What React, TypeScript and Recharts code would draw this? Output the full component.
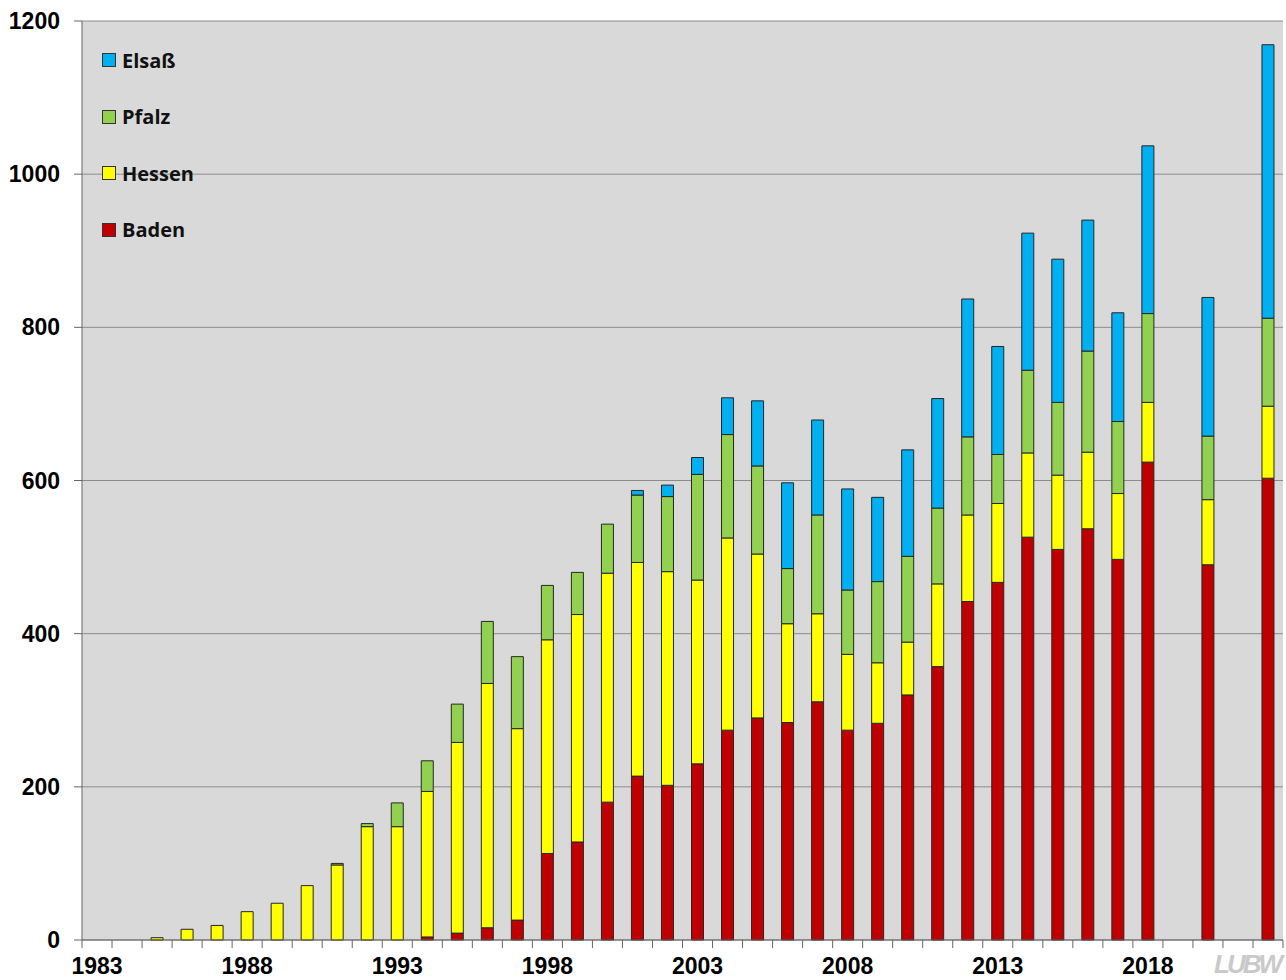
import {
  BarChart,
  Bar,
  XAxis,
  YAxis,
  CartesianGrid,
  Legend,
} from 'recharts'

// Jahre 1983 - 2022, 2019 und 2021 ohne Daten
const years = [
  '1983', '1984', '1985', '1986', '1987', '1988', '1989', '1990', '1991', '1992',
  '1993', '1994', '1995', '1996', '1997', '1998', '1999', '2000', '2001', '2002',
  '2003', '2004', '2005', '2006', '2007', '2008', '2009', '2010', '2011', '2012',
  '2013', '2014', '2015', '2016', '2017', '2018', '2019', '2020', '2021', '2022',
]

const baden = [
  null, null, null, null, null, null, null, null, null, null,
  null, 4, 9, 16, 26, 113, 128, 180, 214, 202,
  230, 274, 290, 284, 311, 274, 283, 320, 357, 442,
  467, 526, 510, 537, 497, 624, null, 490, null, 603,
]

const hessen = [
  null, null, 3, 14, 19, 37, 48, 71, 98, 148,
  148, 190, 249, 319, 250, 279, 297, 299, 279, 279,
  240, 251, 214, 129, 115, 99, 79, 69, 108, 113,
  103, 110, 97, 100, 86, 78, null, 85, null, 94,
]

const pfalz = [
  null, null, null, null, null, null, null, null, 2, 4,
  31, 40, 50, 81, 94, 71, 55, 64, 88, 98,
  138, 135, 115, 72, 129, 84, 106, 112, 99, 102,
  64, 108, 95, 132, 94, 116, null, 83, null, 115,
]

const elsass = [
  null, null, null, null, null, null, null, null, null, null,
  null, null, null, null, null, null, null, null, 6, 15,
  22, 48, 85, 112, 124, 132, 110, 139, 143, 180,
  141, 179, 187, 171, 142, 219, null, 181, null, 357,
]

const yTicks = [0, 200, 400, 600, 800, 1000, 1200]
const labelYears = ['1983', '1988', '1993', '1998', '2003', '2008', '2013', '2018']

const data = years.map((year, i) => ({
  year,
  Baden: baden[i],
  Hessen: hessen[i],
  Pfalz: pfalz[i],
  'Elsaß': elsass[i],
}))

// Stapelreihenfolge von unten nach oben
const series = [
  { key: 'Baden', color: '#c00000' },
  { key: 'Hessen', color: '#ffff00' },
  { key: 'Pfalz', color: '#92d050' },
  { key: 'Elsaß', color: '#00b0f0' },
]

const axisFont = '"Liberation Sans", Arial, sans-serif'
const barStroke = '#262626'

function YearTick(props: any) {
  const { x, y, payload, index } = props
  const half = 15
  const isLast = index === years.length - 1
  return (
    <g>
      <line x1={x - half} y1={y} x2={x - half} y2={y + 8} stroke="#666" />
      {isLast && <line x1={x + half} y1={y} x2={x + half} y2={y + 8} stroke="#666" />}
      {labelYears.includes(payload.value) && (
        <text
          x={x}
          y={y + 34}
          textAnchor="middle"
          fontFamily={axisFont}
          fontWeight="bold"
          fontSize={23}
          fill="#000"
        >
          {payload.value}
        </text>
      )}
    </g>
  )
}

function LegendBox() {
  const items = [...series].reverse()
  return (
    <div>
      {items.map((item) => (
        <div
          key={item.key}
          style={{ display: 'flex', alignItems: 'center', height: 56.5 }}
        >
          <span
            style={{
              display: 'inline-block',
              width: 12,
              height: 12,
              background: item.color,
              border: '1px solid #333',
              marginRight: 6,
            }}
          />
          <span
            style={{
              fontFamily: '"Open Sans", sans-serif',
              fontWeight: 700,
              fontSize: 20,
              color: '#111',
            }}
          >
            {item.key}
          </span>
        </div>
      ))}
    </div>
  )
}

export default function App() {
  return (
    <div
      style={{
        position: 'absolute',
        left: 0,
        top: 0,
        width: 1286,
        height: 980,
        background: '#fff',
        overflow: 'hidden',
      }}
    >
      <BarChart
        width={1286}
        height={980}
        data={data}
        margin={{ top: 21, right: 3, left: 0, bottom: 0 }}
        barSize={12}
      >
        <CartesianGrid
          vertical={false}
          stroke="#8c8c8c"
          fill="#d9d9d9"
          fillOpacity={1}
        />
        <XAxis
          dataKey="year"
          interval={0}
          height={40}
          tickSize={0}
          tickMargin={0}
          tickLine={false}
          axisLine={{ stroke: '#666' }}
          tick={(p: any) => <YearTick {...p} />}
        />
        <XAxis xAxisId="top" orientation="top" height={0} tick={false} axisLine={{ stroke: '#555' }} />
        <YAxis
          width={82}
          domain={[0, 1200]}
          ticks={yTicks}
          interval={0}
          tickSize={8}
          tickMargin={14}
          axisLine={{ stroke: '#666' }}
          tickLine={{ stroke: '#666' }}
          tick={{ fontFamily: axisFont, fontWeight: 'bold', fontSize: 23, fill: '#000' }}
        />
        <YAxis yAxisId="right" orientation="right" width={0} tick={false} axisLine={{ stroke: '#555' }} />
        <Legend
          layout="vertical"
          align="center"
          verticalAlign="middle"
          content={() => <LegendBox />}
          wrapperStyle={{ left: 102, top: 32, width: 'auto' }}
        />
        {series.map((s) => (
          <Bar
            key={s.key}
            dataKey={s.key}
            stackId="a"
            fill={s.color}
            stroke={barStroke}
            isAnimationActive={false}
          />
        ))}
      </BarChart>
      <div
        style={{
          position: 'absolute',
          left: 1214,
          top: 951,
          lineHeight: '26px',
          fontFamily: axisFont,
          fontWeight: 'bold',
          fontStyle: 'italic',
          fontSize: 26,
          letterSpacing: -3,
          color: '#c9c9c9',
          whiteSpace: 'nowrap',
        }}
      >
        LUBW
      </div>
    </div>
  )
}
